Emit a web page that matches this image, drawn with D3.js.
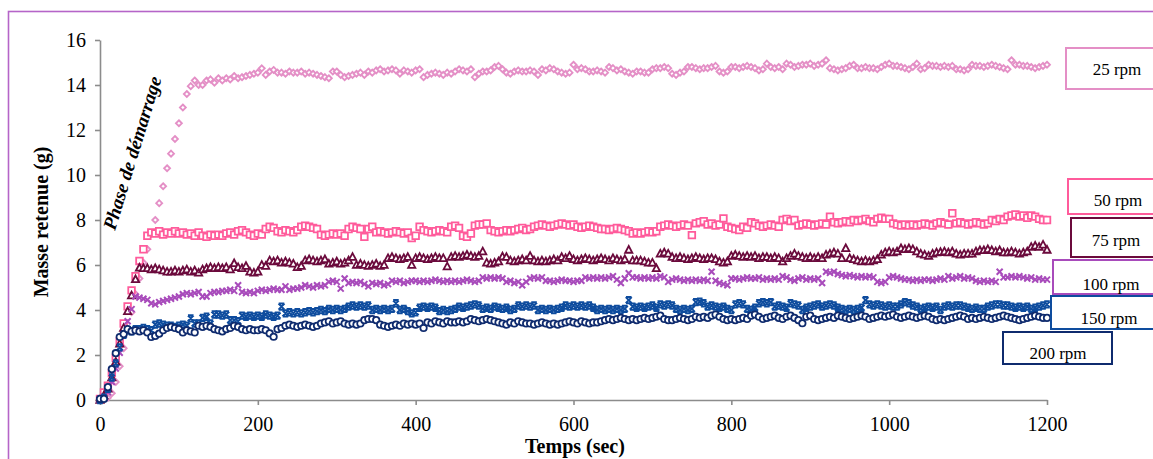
<!DOCTYPE html>
<html><head><meta charset="utf-8">
<script src="https://cdn.jsdelivr.net/npm/d3@7"></script>
<style>body{margin:0;background:#fff}svg{display:block}</style></head>
<body>
<svg id="c" width="1153" height="459"></svg>
<script>
// ---- DATA ----
const timeStep = 5; // seconds between readings
const seriesNames = ["25 rpm","50 rpm","75 rpm","100 rpm","150 rpm","200 rpm"];
const xTicks = [0,200,400,600,800,1000,1200];
const yTicks = [0,2,4,6,8,10,12,14,16];

const rpm25 = [
0,0.05,0.1,0.3,0.8,1.5,2.3,3.1,3.9,4.7,
5.4,6.1,6.7,7.4,8.0,8.75,9.5,10.3,10.95,11.6,
12.3,13.0,13.6,13.95,14.2,14.0,14.0,14.2,14.25,14.1,
14.3,14.2,14.3,14.25,14.4,14.3,14.35,14.4,14.45,14.5,
14.55,14.74,14.45,14.6,14.67,14.55,14.55,14.5,14.6,14.55,
14.55,14.6,14.5,14.55,14.5,14.45,14.4,14.35,14.3,14.6,
14.6,14.45,14.35,14.4,14.45,14.5,14.55,14.45,14.6,14.55,
14.65,14.7,14.6,14.65,14.7,14.65,14.5,14.65,14.6,14.55,
14.65,14.7,14.35,14.45,14.5,14.55,14.5,14.45,14.55,14.5,
14.6,14.7,14.65,14.6,14.7,14.35,14.5,14.6,14.6,14.65,
14.8,14.85,14.7,14.55,14.5,14.6,14.65,14.6,14.6,14.65,
14.6,14.45,14.7,14.65,14.75,14.7,14.6,14.55,14.5,14.55,
14.9,14.7,14.75,14.7,14.6,14.6,14.65,14.6,14.55,14.8,
14.75,14.65,14.7,14.6,14.55,14.5,14.6,14.6,14.55,14.55,
14.7,14.75,14.75,14.8,14.75,14.5,14.45,14.55,14.6,14.8,
14.8,14.75,14.7,14.75,14.75,14.8,14.85,14.6,14.55,14.6,
14.8,14.8,14.75,14.8,14.85,14.8,14.75,14.65,14.7,14.95,
14.8,14.75,14.8,14.7,14.95,14.9,14.8,14.85,14.9,14.9,
14.95,14.85,14.9,14.95,15.1,14.75,14.7,14.65,14.7,14.75,
14.85,14.9,14.75,14.75,14.8,14.75,14.75,14.7,14.8,14.9,
14.95,14.85,14.85,14.8,14.75,14.7,14.8,14.95,14.7,14.75,
14.9,14.85,14.85,14.8,14.85,14.8,14.85,14.7,14.7,14.65,
14.7,14.9,14.85,14.85,14.8,14.85,14.9,14.85,14.8,14.75,
14.7,15.1,14.9,14.9,14.85,14.85,14.8,14.75,14.8,14.85,14.9];

const rpm50 = [
0.05,0.34,0.64,1.2,1.87,2.6,3.4,4.16,4.87,5.5,
6.18,6.7,7.3,7.45,7.4,7.5,7.35,7.45,7.4,7.5,
7.4,7.45,7.35,7.4,7.3,7.45,7.3,7.25,7.35,7.3,
7.35,7.3,7.4,7.45,7.35,7.5,7.55,7.45,7.35,7.3,
7.4,7.35,7.6,7.7,7.65,7.5,7.45,7.55,7.5,7.45,
7.55,7.7,7.75,7.7,7.65,7.6,7.35,7.3,7.35,7.4,
7.35,7.4,7.3,7.6,7.7,7.65,7.6,7.25,7.6,7.7,
7.45,7.5,7.45,7.4,7.45,7.5,7.45,7.4,7.45,7.2,
7.3,7.7,7.55,7.5,7.45,7.5,7.55,7.5,7.45,7.7,
7.75,7.65,7.3,7.25,7.4,7.75,7.8,7.8,7.85,7.55,
7.5,7.45,7.5,7.55,7.5,7.55,7.6,7.65,7.55,7.6,
7.7,7.75,7.8,7.75,7.7,7.75,7.8,7.85,7.8,7.75,
7.8,7.7,7.65,7.7,7.75,7.7,7.65,7.6,7.6,7.55,
7.6,7.65,7.6,7.55,7.5,7.4,7.45,7.4,7.45,7.5,
7.45,7.5,7.7,7.75,7.8,7.75,7.7,7.75,7.8,7.75,
7.33,7.85,7.9,7.95,7.8,7.85,7.75,7.8,8.07,7.7,
7.65,7.6,7.55,7.7,7.65,7.9,7.85,7.75,7.7,7.75,
7.8,7.75,7.7,8.0,8.05,7.95,8.0,7.75,7.8,7.85,
7.8,7.75,7.8,7.85,7.8,8.15,7.9,7.85,7.9,7.95,
7.9,8.0,7.95,8.0,8.05,7.95,7.9,8.05,8.1,8.05,
8.05,7.85,7.8,7.75,7.8,7.75,7.8,7.75,7.8,7.85,
7.8,7.75,7.85,7.9,7.85,7.8,8.3,7.85,7.9,7.85,
7.8,7.85,7.9,7.85,7.8,7.85,8.0,7.95,8.05,8.0,
8.15,8.2,8.25,8.15,8.2,8.1,8.2,8.15,8.05,8.0,8.0];

const rpm75 = [
0,0.2,0.5,1.0,1.7,2.5,3.2,3.94,4.64,5.36,
5.87,5.85,5.85,5.8,5.85,5.8,5.75,5.7,5.7,5.75,
5.7,5.75,5.8,5.7,5.75,5.65,5.8,5.85,5.9,5.85,
5.9,5.85,5.9,5.8,6.07,5.9,5.85,5.95,5.7,5.65,
5.7,6.0,5.95,6.2,6.15,6.2,6.1,6.15,6.1,6.05,
5.9,5.95,6.2,6.25,6.2,6.15,6.2,6.25,6.05,6.1,
6.15,6.05,6.1,6.2,6.35,6.0,6.05,6.0,5.95,6.0,
6.05,5.95,6.0,6.3,6.35,6.3,6.25,6.3,6.35,6.0,
6.3,6.35,6.3,6.25,6.3,6.35,6.3,6.3,5.93,6.35,
6.4,6.35,6.4,6.45,6.4,6.35,6.4,6.6,6.1,6.05,
6.1,6.15,6.37,6.35,6.2,6.15,6.2,6.25,6.2,6.4,
6.2,6.15,6.2,6.15,6.2,6.25,6.2,6.35,6.3,6.4,
6.25,6.2,6.25,6.3,6.25,6.2,6.25,6.3,6.25,6.2,
6.3,6.25,6.2,6.25,6.67,6.2,6.2,6.2,6.15,6.1,
6.1,5.85,6.5,6.55,6.5,6.35,6.3,6.35,6.3,6.25,
6.3,6.35,6.3,6.25,6.3,6.3,6.25,6.15,6.1,6.15,
6.4,6.45,6.4,6.35,6.4,6.35,6.4,6.3,6.35,6.35,
6.3,6.35,6.3,6.15,6.3,6.4,6.5,6.4,6.35,6.3,
6.35,6.3,6.35,6.3,6.45,6.5,6.55,6.5,6.3,6.74,
6.3,6.25,6.2,6.15,6.2,6.15,6.2,6.25,6.45,6.55,
6.6,6.55,6.6,6.74,6.7,6.74,6.7,6.6,6.5,6.45,
6.4,6.5,6.55,6.57,6.6,6.55,6.6,6.5,6.45,6.5,
6.5,6.5,6.6,6.65,6.65,6.7,6.65,6.6,6.65,6.55,
6.55,6.6,6.55,6.5,6.55,6.6,6.8,6.85,6.8,6.9,6.67];

const rpm100 = [
0,0.1,0.35,0.8,1.4,2.1,2.9,3.5,4.04,4.6,
4.55,4.5,4.45,4.3,4.25,4.35,4.4,4.45,4.5,4.55,
4.6,4.7,4.75,4.7,4.75,4.8,4.6,4.6,4.75,4.8,
4.8,4.85,4.85,4.9,4.85,5.1,4.8,4.75,4.8,4.75,
4.85,4.9,4.85,4.9,4.95,4.9,4.9,5.05,4.9,4.95,
4.95,5.0,5.1,5.05,5.0,5.1,5.05,5.1,5.25,5.3,
5.25,4.95,5.4,5.2,5.25,5.2,5.25,5.15,5.05,5.2,
5.15,5.2,5.1,5.15,5.3,5.25,5.3,5.2,5.25,5.3,
5.3,5.25,5.3,5.25,5.3,5.35,5.3,5.25,5.3,5.25,
5.3,5.25,5.3,5.35,5.3,5.25,5.3,5.45,5.4,5.45,
5.4,5.45,5.4,5.25,5.3,5.2,5.25,5.1,5.25,5.4,
5.45,5.4,5.45,5.3,5.3,5.25,5.3,5.35,5.3,5.3,
5.25,5.3,5.3,5.45,5.4,5.45,5.4,5.45,5.4,5.45,
5.5,5.35,5.2,5.4,5.63,5.45,5.45,5.4,5.45,5.4,
5.45,5.4,5.5,5.45,5.25,5.35,5.4,5.35,5.3,5.35,
5.3,5.35,5.3,5.35,5.3,5.7,5.3,5.2,5.15,5.1,
5.4,5.4,5.35,5.4,5.45,5.4,5.4,5.45,5.35,5.4,
5.35,5.4,5.35,5.5,5.45,5.35,5.3,5.4,5.45,5.35,
5.4,5.35,5.4,5.2,5.7,5.65,5.7,5.6,5.55,5.5,
5.55,5.5,5.45,5.5,5.45,5.5,5.45,5.25,5.2,5.25,
5.45,5.5,5.45,5.4,5.35,5.35,5.3,5.35,5.3,5.35,
5.35,5.3,5.35,5.4,5.35,5.5,5.4,5.45,5.5,5.4,
5.45,5.4,5.3,5.25,5.3,5.25,5.3,5.25,5.7,5.45,
5.45,5.5,5.45,5.5,5.45,5.4,5.45,5.35,5.4,5.35,5.35];

const rpm150 = [
0,0.1,0.5,1.0,1.63,2.34,2.9,3.1,3.05,3.15,
3.15,3.2,3.15,3.1,3.35,3.4,3.35,3.3,3.3,3.25,
3.3,3.35,3.3,3.63,3.4,3.4,3.65,3.7,3.4,3.8,
3.8,3.75,3.8,3.55,3.55,3.5,3.75,3.7,3.75,3.7,
3.75,3.7,3.8,3.75,3.7,3.75,4.15,3.85,3.9,3.85,
3.9,3.85,3.9,3.95,3.9,3.95,4.0,3.95,4.05,4.0,
4.05,4.0,4.05,4.15,4.2,4.15,4.2,4.15,4.2,4.0,
4.05,4.0,4.05,4.0,4.05,4.3,4.0,4.05,3.95,3.85,
3.9,4.1,4.15,4.1,4.15,4.1,3.95,4.0,3.95,4.0,
4.05,4.15,4.1,4.15,4.2,4.25,4.2,4.05,4.1,4.05,
4.15,4.1,4.05,4.1,4.0,4.05,4.2,4.15,4.2,4.15,
4.2,4.0,4.05,4.0,4.05,4.0,4.05,4.1,4.2,4.15,
4.2,4.15,4.2,4.15,4.2,4.1,4.0,4.05,4.0,4.05,
4.0,4.05,4.0,4.05,4.44,4.15,4.1,4.15,4.1,4.15,
4.2,4.1,4.25,4.2,4.25,4.2,4.05,4.0,4.05,4.0,
4.05,4.35,4.37,4.3,4.15,4.2,4.15,4.1,4.15,4.05,
4.0,4.25,4.3,4.25,4.05,4.0,4.1,4.3,4.35,4.3,
4.35,4.15,4.2,4.15,4.1,4.3,4.25,4.2,4.0,4.1,
4.15,4.2,4.25,4.15,4.2,4.25,4.2,4.1,4.05,4.0,
4.05,4.0,4.05,4.1,4.44,4.25,4.2,4.25,4.2,4.15,
4.2,4.15,4.15,4.25,4.35,4.3,4.2,4.15,4.05,4.1,
4.15,4.1,4.15,4.0,4.15,4.2,4.15,4.2,4.2,4.15,
4.1,4.05,4.1,4.05,4.05,4.15,4.2,4.25,4.25,4.2,
4.2,4.15,4.1,4.15,4.1,4.15,4.05,4.1,4.15,4.2,4.25];

const rpm200 = [
0.05,0.05,0.57,1.37,2.08,2.8,2.93,3.15,3.05,3.1,
3.05,3.1,3.0,2.8,2.85,2.95,3.1,3.2,3.25,3.2,
3.15,3.0,3.1,3.05,3.0,3.3,3.25,3.3,3.25,3.15,
3.1,3.05,3.15,3.2,3.3,3.25,3.15,3.1,3.15,3.1,
3.1,3.15,3.1,2.96,2.81,3.15,3.2,3.3,3.35,3.3,
3.25,3.3,3.35,3.3,3.25,3.3,3.4,3.45,3.5,3.4,
3.45,3.5,3.4,3.35,3.4,3.35,3.4,3.55,3.6,3.6,
3.55,3.35,3.3,3.25,3.3,3.35,3.3,3.4,3.35,3.4,
3.35,3.4,3.2,3.45,3.4,3.5,3.45,3.4,3.5,3.45,
3.45,3.5,3.45,3.5,3.6,3.55,3.5,3.55,3.6,3.55,
3.5,3.45,3.4,3.35,3.45,3.4,3.5,3.45,3.4,3.4,
3.35,3.4,3.45,3.4,3.35,3.4,3.35,3.4,3.45,3.5,
3.45,3.4,3.5,3.45,3.4,3.45,3.45,3.5,3.55,3.6,
3.55,3.6,3.65,3.6,3.55,3.6,3.55,3.6,3.65,3.6,
3.65,3.7,3.75,3.6,3.55,3.55,3.6,3.65,3.6,3.55,
3.6,3.7,3.65,3.7,3.65,3.75,3.8,3.7,3.6,3.55,
3.6,3.55,3.6,3.65,3.6,3.75,3.8,3.7,3.6,3.65,
3.7,3.75,3.65,3.6,3.7,3.75,3.65,3.55,3.41,3.7,
3.75,3.6,3.55,3.6,3.65,3.7,3.65,3.75,3.7,3.65,
3.6,3.65,3.7,3.75,3.7,3.6,3.65,3.7,3.75,3.7,
3.75,3.8,3.7,3.65,3.7,3.75,3.7,3.65,3.7,3.75,
3.7,3.6,3.55,3.6,3.55,3.6,3.65,3.7,3.75,3.7,
3.6,3.65,3.6,3.65,3.7,3.65,3.6,3.65,3.7,3.75,
3.7,3.65,3.6,3.55,3.6,3.65,3.7,3.75,3.7,3.65,3.65];

// ---- STYLE / LAYOUT ----
const seriesValues = [rpm25, rpm50, rpm75, rpm100, rpm150, rpm200];
const colors = ["#e48fc6","#ff5b9b","#6b0a3c","#a84bbb","#0e4c9e","#0f2b6e"];
const symbols = ["diamond","square","triangle","x","star","circle"];
const boxes = [
  {x:1066,y:48,w:120,h:41,tx:1117,ty:75},
  {x:1068,y:179,w:120,h:35,tx:1118,ty:206},
  {x:1071,y:218,w:120,h:39,tx:1116,ty:246},
  {x:1053,y:260,w:120,h:34,tx:1111,ty:290},
  {x:1051,y:296,w:120,h:33,tx:1109,ty:324},
  {x:1003,y:332,w:109,h:32,tx:1058,ty:359}
];

const svg = d3.select("#c");
svg.append("rect").attr("width",1153).attr("height",459).attr("fill","#fff");
svg.append("rect").attr("x",8.5).attr("y",11.5).attr("width",1300).attr("height",600)
  .attr("fill","none").attr("stroke","#b565c8").attr("stroke-width",1.6);

const x = d3.scaleLinear().domain([0,1200]).range([100,1047]);
const y = d3.scaleLinear().domain([0,16]).range([400,40]);
const serif = "'Liberation Serif','Times New Roman',serif";

const gx = svg.append("g").attr("transform","translate(0,400)")
  .call(d3.axisBottom(x).tickValues(xTicks).tickSize(5).tickSizeOuter(0).tickFormat(d3.format("d")));
const gy = svg.append("g").attr("transform","translate(100,0)")
  .call(d3.axisLeft(y).tickValues(yTicks).tickSize(5).tickSizeOuter(0).tickFormat(d3.format("d")));
[gx,gy].forEach(g=>{
  g.select(".domain").attr("stroke","#8c8c8c").attr("stroke-width",1.6);
  g.selectAll(".tick line").attr("stroke","#8c8c8c").attr("stroke-width",1.6);
  g.selectAll(".tick text").attr("font-family",serif).attr("font-size",20).attr("fill","#000");
});
gx.selectAll(".tick text").attr("dy","1.15em");
gy.selectAll(".tick text").attr("x",-14).attr("dy","0.34em");

// markers
function markerPath(type){
  switch(type){
    case "diamond": return "M0,-3L3,0L0,3L-3,0Z";
    case "square": return "M-3.3,-3.3H3.3V3.3H-3.3Z";
    case "triangle": return "M0,-3.9L3.6,2.8H-3.6Z";
    case "x": return "M-3,-3L3,3M-3,3L3,-3";
    case "star": return "M-3,-3L3,3M-3,3L3,-3M-2.8,-3.2H2.8M-2.8,3.2H2.8";
    case "circle": return "M3.2,0A3.2,3.2 0 1,1 -3.2,0A3.2,3.2 0 1,1 3.2,0Z";
  }
}
const plot = svg.append("g");
seriesValues.forEach((vals,si)=>{
  const open = symbols[si]==="x"||symbols[si]==="star";
  plot.append("g").selectAll("path").data(vals).join("path")
    .attr("transform",(d,i)=>`translate(${x(i*timeStep)},${y(d)})`)
    .attr("d",markerPath(symbols[si]))
    .attr("fill",open?"none":"#fff")
    .attr("stroke",colors[si])
    .attr("stroke-width",open?2:1.8);
});

// label boxes
const lg = svg.append("g");
seriesNames.forEach((n,i)=>{
  const b = boxes[i];
  lg.append("rect").attr("x",b.x).attr("y",b.y).attr("width",b.w).attr("height",b.h)
    .attr("fill","#fff").attr("stroke",colors[i]).attr("stroke-width",2);
  lg.append("text").attr("x",b.tx).attr("y",b.ty).attr("text-anchor","middle")
    .attr("font-family",serif).attr("font-size",17).attr("fill","#000").text(n);
});

// axis titles
svg.append("text").attr("x",575).attr("y",453).attr("text-anchor","middle")
  .attr("font-family",serif).attr("font-weight","bold").attr("font-size",20).text("Temps (sec)");
svg.append("text").attr("transform","translate(48,222) rotate(-90)").attr("text-anchor","middle")
  .attr("font-family",serif).attr("font-weight","bold").attr("font-size",20).text("Masse retenue (g)");
svg.append("text").attr("transform","translate(115,231) rotate(-73)")
  .attr("font-family",serif).attr("font-weight","bold").attr("font-style","italic")
  .attr("font-size",19).text("Phase de démarrage");
</script>
</body></html>
